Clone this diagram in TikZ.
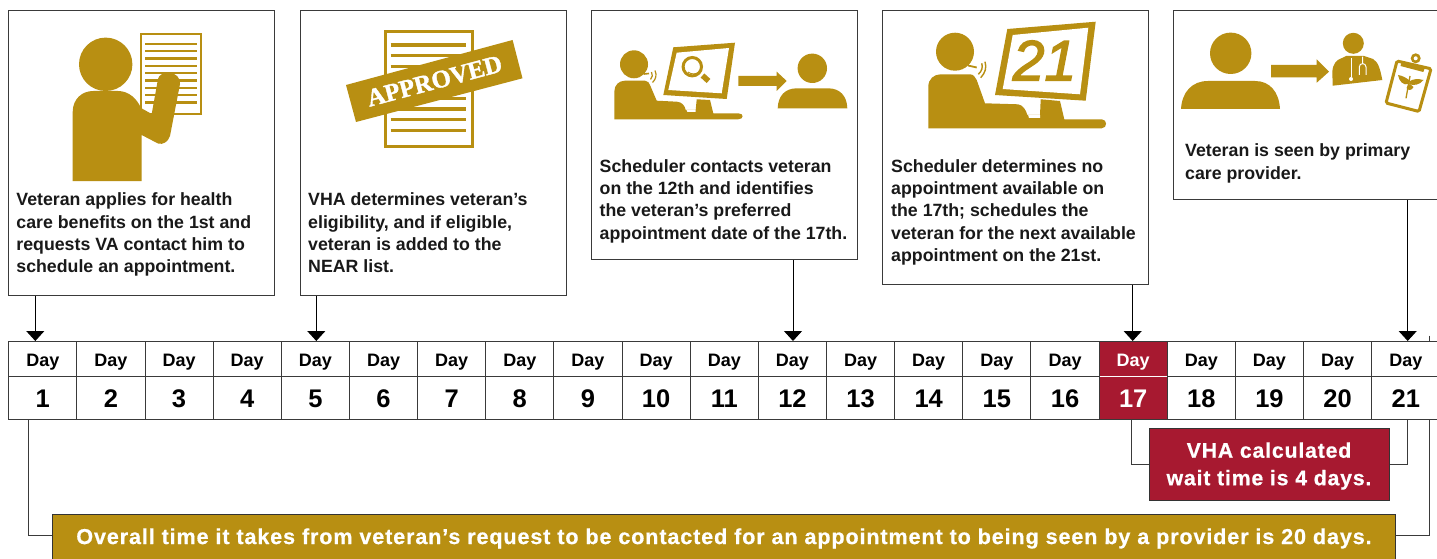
\documentclass[tikz,border=0pt]{standalone}
\usepackage{fontspec}
\setmainfont{Liberation Sans}[BoldFont=Liberation Sans Bold]
\newfontfamily\stampfont{Liberation Serif}
\usetikzlibrary{arrows.meta,calc}
\definecolor{vagold}{HTML}{B88F12}
\definecolor{vared}{HTML}{A71930}
\definecolor{gridc}{HTML}{3A3A3A}
\tikzset{
  x=1pt,y=-1pt,
  infobox/.style={draw=gridc,line width=1.1pt,fill=white,anchor=north west,inner sep=0pt},
  boxtext/.style={anchor=north west,inner sep=0pt,align=left,font=\fontsize{17.75}{22.45}\selectfont\bfseries,text=black!90},
  cellbox/.style={draw=gridc,line width=1pt,anchor=north west,inner sep=0pt,minimum width=68.15pt,fill=white},
  toprow/.style={cellbox,minimum height=34.5pt,text height=15pt,text depth=0pt,font=\fontsize{18}{20}\selectfont\bfseries},
  botrow/.style={cellbox,minimum height=43pt,text height=19.4pt,text depth=0pt,font=\fontsize{25.5}{28}\selectfont\bfseries},
  wire/.style={draw=gridc,line width=1pt},
  pointer/.style={draw=black,line width=1pt,-{Triangle[length=10pt,width=18pt,fill=black]}},
  ink/.style={fill=vagold,draw=none},
  wave/.style={draw=vagold,line width=1pt},
  banner/.style={draw=black!80,line width=1pt,fill=#1,text=white,inner sep=0pt},
  bannertext/.style={inner sep=0pt,text=white,align=center,font=\fontsize{#1}{27.5}\selectfont\bfseries\addfontfeature{LetterSpace=4,FakeBold=0.6}},
}
\begin{document}
\begin{tikzpicture}
\useasboundingbox (0,0) rectangle (1437,559);
\fill[white] (0,0) rectangle (1437,559);
\clip (0,0) rectangle (1437,559);

% event boxes
\node[infobox,minimum width=266pt,minimum height=285pt] (b1) at (8,10) {};
\node[infobox,minimum width=266pt,minimum height=285pt] (b2) at (299.7,10) {};
\node[infobox,minimum width=266pt,minimum height=249pt] (b3) at (591,10) {};
\node[infobox,minimum width=266pt,minimum height=274pt] (b4) at (882,10) {};
\node[infobox,minimum width=280pt,minimum height=189pt] (b5) at (1173,10) {};

\node[boxtext] (t1) at (16.2,192.5) {Veteran applies for health\\care benefits on the 1st and\\requests VA contact him to\\schedule an appointment.};
\node[boxtext] (t2) at (308,192.5) {VHA determines veteran’s\\eligibility, and if eligible,\\veteran is added to the\\NEAR list.};
\node[boxtext] (t3) at (599.5,159) {Scheduler contacts veteran\\on the 12th and identifies\\the veteran’s preferred\\appointment date of the 17th.};
\node[boxtext] (t4) at (891,159) {Scheduler determines no\\appointment available on\\the 17th; schedules the\\veteran for the next available\\appointment on the 21st.};
\node[boxtext] (t5) at (1185,143.5) {Veteran is seen by primary\\care provider.};

% day cells
\foreach \i in {1,...,21}{
  \pgfmathsetmacro{\xx}{8.2+(\i-1)*68.15}
  \ifnum\i=17
    \node[toprow,fill=vared,text=white] (d\i) at (\xx,341.3) {Day};
    \node[botrow,fill=vared,text=white] (n\i) at (\xx,375.8) {\i};
  \else
    \node[toprow] (d\i) at (\xx,341.3) {Day};
    \node[botrow] (n\i) at (\xx,375.8) {\i};
  \fi
}
\draw[white,line width=1.2pt] ($(d17.south west)+(1,0)$) -- ($(d17.south east)+(-1,0)$);

% pointers
\coordinate (tip1) at (35.3,341);
\coordinate (tip2) at (316.3,341);
\coordinate (tip3) at (793,341);
\coordinate (tip4) at (1132.7,341);
\coordinate (tip5) at (1407.7,341);
\draw[pointer] (b1.south -| tip1) -- (tip1);
\draw[pointer] (b2.south -| tip2) -- (tip2);
\draw[pointer] (b3.south -| tip3) -- (tip3);
\draw[pointer] (b4.south -| tip4) -- (tip4);
\draw[pointer] (b5.south -| tip5) -- (tip5);

% banners
\node[banner=vared,minimum width=239.4pt,minimum height=72pt,anchor=north west] (wait) at (1149.3,428) {};
\node[bannertext=21.2] (waittext) at (1269,466) {VHA calculated\\wait time is 4 days.};
\node[banner=vagold,minimum width=1343pt,minimum height=50pt,anchor=north west] (total) at (52.3,514) {};
\node[bannertext=21.6] (totaltext) at (724,538.5) {Overall time it takes from veteran’s request to be contacted for an appointment to being seen by a provider is 20 days.};

\coordinate (w1) at (1131,419);
\coordinate (w2) at (1407,419);
\coordinate (w3) at (28.3,419);
\coordinate (w4) at (1429.7,419);
\coordinate (w5) at (1429.7,335.5);
\coordinate (w6) at (1429.7,341);
\draw[wire] (w1) |- (wait.west);
\draw[wire] (w2) |- (wait.east);
\draw[wire] (w3) |- (28.3,535.7) -- (total.west |- 0,535.7);
\draw[wire] (w4) |- (1429.7,535.7) -- (total.east |- 0,535.7);
\draw[wire] (w5) -- (w6);

% --- icon 1: veteran with form
\draw[vagold,line width=2pt,fill=white] (141,33.7) rectangle (200.7,114);
\foreach \yy in {44,51.3,58.7,66,73.3,80.7,88,95.3,102.7}
  \draw[vagold,line width=2.4pt] (145,\yy) -- (196.7,\yy);
\fill[ink] (105.7,64.3) circle (26.7);
\fill[ink] (72.7,181) -- (72.7,112) .. controls (72.7,99) and (82,91) .. (93.3,91)
  -- (118,91) .. controls (129,91) and (137,99) .. (141,108)
  -- (151.7,114) -- (158,79) .. controls (159,75) and (163,72.7) .. (168.3,72.7)
  .. controls (176,72.7) and (180.5,78) .. (180,84) -- (170,136)
  .. controls (168,142) and (163,145) .. (158,143.5) -- (141.7,135) -- (141.7,181) -- cycle;

% --- icon 2: approved
\draw[vagold,line width=3pt,fill=white] (385,31.5) rectangle (472,146.5);
\foreach \yy in {45,55.7,66.3,77,87.7,98.3,109,119.7,130.3}
  \draw[vagold,line width=3.3pt] (390.5,\yy) -- (465.5,\yy);
\fill[ink] (346,85) -- (512.6,40) -- (522.5,78.3) -- (356,122) -- cycle;
\node[inner sep=0pt,rotate=15,text=white,font=\stampfont\fontsize{25}{25}\selectfont\bfseries\addfontfeature{FakeBold=1.5}] (stamp) at (434.5,81) {APPROVED};

% --- icon 3: scheduler contacts veteran
\fill[ink] (634,64.3) circle (14);
\fill[ink] (614.3,119.3) -- (614.3,91.7) .. controls (614.3,85) and (619,80.7) .. (625,80.7)
  -- (645,80.7) .. controls (648,80.7) and (649,83) .. (650,85) -- (656.7,100.7)
  -- (677,101.7) .. controls (682,102) and (685,106) .. (685.7,110) -- (695.7,110)
  -- (696.7,99.3) -- (710,100) -- (713.3,113.3) -- (738.3,113.3)
  .. controls (744,113.3) and (744,119.3) .. (738.3,119.3) -- cycle;
\fill[white] (686.5,110.2) -- (695.7,110.2) -- (695.7,112) -- (687.5,112) -- cycle;
\fill[ink] (673.3,47.3) -- (735,42.7) -- (726.7,99) -- (663.3,95) -- cycle;
\fill[white] (676.7,52.7) -- (729,48) -- (721.7,93.3) -- (668.3,90) -- cycle;
\draw[vagold,line width=3pt] (692.3,66.7) circle (9.2);
\draw[vagold,line width=5.5pt] (702.5,75.5) -- (708.5,81);
\draw[vagold,line width=0.9pt] (688,72) .. controls (691,74.5) and (696,74.5) .. (699,72);
\draw[vagold,line width=1.6pt] (644,74) -- (649,73.5);
\draw[wave,line width=1.2pt] (651.5,72) .. controls (653,74.5) and (652.5,77.5) .. (650.5,79.5);
\draw[wave,line width=1.2pt] (655,70.5) .. controls (657,75) and (656,79) .. (652.5,82.5);
\fill[ink] (738.3,76) -- (776.7,76) -- (776.7,71.7) -- (786.7,81) -- (776.7,91) -- (776.7,86) -- (738.3,86) -- cycle;
\fill[ink] (812.3,68.3) circle (14.7);
\fill[ink] (777.7,108.3) .. controls (778,96) and (785,88.3) .. (797,88.3) -- (828,88.3)
  .. controls (840,88.3) and (847,96) .. (847.3,108.3) -- cycle;

% --- icon 4: scheduler and date 21
\fill[ink] (955,51.7) circle (19);
\fill[ink] (928.3,128.3) -- (928.3,86.7) .. controls (928.3,79) and (934,74.3) .. (940.7,74.3)
  -- (970,74.3) .. controls (973,74.3) and (975.5,77) .. (976.7,80) -- (985,103.3)
  -- (1018,104.3) .. controls (1023,105) and (1026,110) .. (1027.3,115) -- (1040,115)
  -- (1040.7,99.3) -- (1060,101) -- (1064.3,119.3) -- (1101.7,119.3)
  .. controls (1107.5,119.3) and (1107.5,128.3) .. (1101.7,128.3) -- cycle;
\fill[white] (1028.2,115.2) -- (1040,115.2) -- (1040,118) -- (1029,118) -- cycle;
\fill[ink] (1007.3,29) -- (1095.7,21.7) -- (1085.7,100.7) -- (995,95) -- cycle;
\fill[white] (1012.7,35) -- (1088.3,27.7) -- (1080,94.3) -- (1002.7,89) -- cycle;
\node[inner sep=0pt,text=vagold,font=\fontsize{57}{57}\selectfont\itshape\addfontfeature{FakeBold=2.5}] (cal) at (1044.5,60.5) {21};
\draw[vagold,line width=1.8pt] (968,65.5) -- (976.7,67.5);
\draw[wave,line width=1.4pt] (981.7,63.3) .. controls (983,67) and (982,71) .. (978.3,74.3);
\draw[wave,line width=1.4pt] (985,61.7) .. controls (987,68) and (985,73) .. (980.7,77.7);

% --- icon 5: veteran to provider
\fill[ink] (1230.7,53.3) circle (20.7);
\fill[ink] (1181,109) .. controls (1182,92) and (1192,81) .. (1208,81) -- (1255,81)
  .. controls (1270,81) and (1279,92) .. (1280,109) -- cycle;
\fill[ink] (1271,65) -- (1316.7,65) -- (1316.7,59.3) -- (1329,71.7) -- (1316.7,82.7) -- (1316.7,77.3) -- (1271,77.3) -- cycle;
\fill[ink] (1353.3,43.3) circle (10.5);
\fill[ink] (1332.7,85.7) -- (1332.3,71.7) .. controls (1333,64) and (1336,60) .. (1342,58)
  -- (1346,56) -- (1364,56) -- (1373,59) .. controls (1378,62) and (1380,68) .. (1382.3,80) -- cycle;
\draw[white,line width=1pt] (1351,58.3) -- (1351,77);
\fill[white] (1351,79) circle (2);
\draw[white,line width=1pt] (1362.7,56.7) -- (1362.7,63.3)
  (1359.3,75) -- (1359.3,67) .. controls (1359.3,62.5) and (1366,62.5) .. (1366,67) -- (1366,75);
\draw[vagold,line width=3pt,fill=white,rounded corners=1.5pt] (1397,61) -- (1431,68.8) -- (1419,111.5) -- (1386,103) -- cycle;
\fill[ink] (1401.7,61.5) -- (1425,67.5) -- (1423.3,72) -- (1400.5,66) -- cycle;
\fill[ink] (1415.7,58.3) circle (5);
\fill[white] (1415.7,58.3) circle (2);
\draw[vagold,line width=1.3pt] (1410,76) -- (1406,98.3);
\fill[ink] (1409,84) .. controls (1403,86) and (1399,81) .. (1398,75) .. controls (1402,75.5) and (1407,78) .. (1410,81) -- cycle;
\fill[ink] (1409,84) .. controls (1413,86) and (1420,85) .. (1423.5,80) .. controls (1418,78.5) and (1413,79) .. (1410,81) -- cycle;
\fill[ink] (1406.5,88) .. controls (1408,91) and (1412,90.5) .. (1413.5,87) -- (1410,84) -- (1408,85) -- cycle;
\end{tikzpicture}
\end{document}
